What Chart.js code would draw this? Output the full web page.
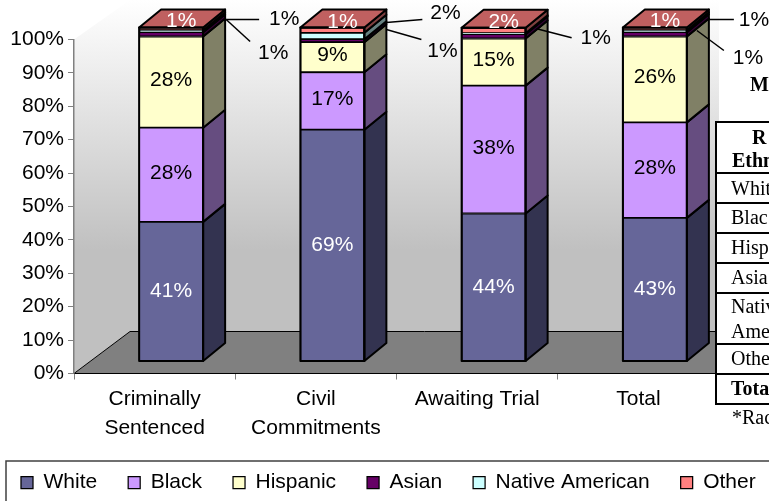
<!DOCTYPE html>
<html>
<head>
<meta charset="utf-8">
<style>
  html, body { margin: 0; padding: 0; background: #fff; overflow: hidden; width: 769px; height: 501px; }
  #chart_race { position: absolute; left: 0; top: 0; }
  #side { position: absolute; left: 0; top: 0; width: 769px; height: 501px; overflow: hidden; font-family: "Liberation Serif", serif; font-size: 20px; color: #000; }
  #side div { position: absolute; white-space: nowrap; }
  .cell { left: 715px; width: 60px; background: #fff; border: 2px solid #000; box-sizing: border-box; margin-bottom: 0; }
  .txt { left: 731px; line-height: 24px; }
</style>
</head>
<body>
<canvas id="chart_race" width="900" height="620"></canvas>
<div id="side"></div>
<script src="https://cdn.jsdelivr.net/npm/chart.js@4"></script>
<script>
const categories = [['Criminally', 'Sentenced'], ['Civil', 'Commitments'], 'Awaiting Trial', 'Total'];
const seriesNames = ['White', 'Black', 'Hispanic', 'Asian', 'Native American', 'Other'];

// bar heights
const white = [41.8, 69.4, 44.3, 43.0];
const black = [28.2, 17.2, 38.3, 28.6];
const hispanic = [27.3, 9.0, 14.1, 25.7];
const asian = [1.3, 0.9, 1.3, 1.3];
const native = [0.6, 1.9, 0.3, 0.6];
const other = [0.8, 1.6, 1.6, 0.8];

// the percentages printed on the chart
const whiteLabels = ['41%', '69%', '44%', '43%'];
const blackLabels = ['28%', '17%', '38%', '28%'];
const hispanicLabels = ['28%', '9%', '15%', '26%'];
const asianLabels = ['1%', '1%', '1%', '1%'];
const nativeLabels = ['1%', '2%', null, '1%'];
const otherLabels = ['1%', '1%', '2%', '1%'];

const frontColors = ['#666699', '#CC99FF', '#FFFFCC', '#660066', '#CCFFFF', '#FF8080'];
const sideColors = ['#333350', '#664D80', '#808066', '#330033', '#668080', '#804040'];
const labelColors = ['#fff', '#000', '#000', '#000', '#000', '#fff'];
const labelNudge = [0, -1.5, -2, 0, 0, -8];
const topColor = '#C06060';

// fake 3D sizes, px
const wallDx = 56, wallDy = 42;
const barDx = 16.5, barLift = 12;
const sideDx = 22, sideDy = 18;
const floorFront = 373.5;

// leader lines: series, bar, then start, end and text offsets from the bar's top right corner
const callouts = [
  [4, 0, 23, -8, 56, -8, 81, -8],
  [3, 0, 23, -8, 47, 14, 70, 26],
  [4, 1, 22, -5, 58, -8, 81, -14],
  [3, 1, 22, 2, 57, 12, 78, 24],
  [3, 2, 11, 1, 46, 10, 70, 10],
  [4, 3, 22, -8, 47, -8, 67, -7],
  [3, 3, 10, 3, 37, 23, 61, 31]
];

const allValues = [white, black, hispanic, asian, native, other];
const allLabels = [whiteLabels, blackLabels, hispanicLabels, asianLabels, nativeLabels, otherLabels];

const tableLines = [121, 172, 202, 232, 262, 292, 343, 373, 403];
const tableText = [
  ['M', 750, 72, true], ['R', 752, 125, true], ['Ethn', 732, 148, true],
  ['Whit', 731, 176, false], ['Blac', 731, 205, false], ['Hisp', 731, 235, false],
  ['Asia', 731, 265, false], ['Nativ', 731, 294, false], ['Ame', 731, 319, false],
  ['Othe', 731, 346, false], ['Tota', 731, 376, true], ['*Rac', 732, 405, false]
];

function poly(ctx, pts, fill) {
  ctx.beginPath();
  pts.forEach((p, i) => i ? ctx.lineTo(p[0], p[1]) : ctx.moveTo(p[0], p[1]));
  ctx.closePath();
  if (fill) { ctx.fillStyle = fill; ctx.fill(); }
  ctx.stroke();
}

const walls = {
  id: 'walls',
  afterLayout(chart) {
    chart.legend.left = -10;
    chart.legend.top = 441;
  },
  beforeDraw(chart) {
    const ctx = chart.ctx;
    const a = chart.chartArea;
    const grad = ctx.createLinearGradient(0, 0, 0, 250);
    grad.addColorStop(0, '#ffffff');
    grad.addColorStop(1, '#c0c0c0');
    ctx.save();
    ctx.strokeStyle = 'rgba(0,0,0,0)';
    ctx.lineWidth = 0;
    poly(ctx, [[a.left, a.bottom], [a.left + wallDx, a.bottom - wallDy], [a.left + wallDx, 0], [a.left, a.top]], grad);
    poly(ctx, [[a.left + wallDx, a.bottom - wallDy], [a.left + wallDx, 0], [a.right, 0], [a.right, a.bottom - wallDy]], grad);
    ctx.strokeStyle = '#000';
    ctx.lineWidth = 1;
    poly(ctx, [[a.left, a.bottom], [a.left + wallDx, a.bottom - wallDy], [a.right, a.bottom - wallDy], [a.right, a.bottom]], '#808080');
    // legend frame runs off the crop
    ctx.strokeStyle = '#404040';
    ctx.lineWidth = 1.5;
    ctx.beginPath();
    ctx.moveTo(6, 501);
    ctx.lineTo(6, 461);
    ctx.lineTo(900, 461);
    ctx.stroke();
    ctx.restore();
  },
  beforeDatasetsDraw(chart) {
    chart.ctx.save();
    chart.ctx.translate(barDx, -barLift);
  },
  afterDatasetsDraw(chart) {
    const ctx = chart.ctx;
    ctx.strokeStyle = '#000';
    ctx.lineWidth = 2;
    ctx.lineJoin = 'round';
    const metas = allValues.map((v, s) => chart.getDatasetMeta(s));

    // side faces, then the lid, then the outline of the front
    metas.forEach((m, s) => m.data.forEach(el => {
      const r = el.x + el.width / 2;
      poly(ctx, [[r, el.base], [r + sideDx, el.base - sideDy], [r + sideDx, el.y - sideDy], [r, el.y]], sideColors[s]);
    }));
    metas[5].data.forEach((el, i) => {
      const l = el.x - el.width / 2, r = el.x + el.width / 2;
      poly(ctx, [[l, el.y], [l + sideDx, el.y - sideDy], [r + sideDx, el.y - sideDy], [r, el.y]], topColor);
      ctx.strokeRect(l, el.y, el.width, metas[0].data[i].base - el.y);
    });

    ctx.font = '21px "Liberation Sans"';
    ctx.textAlign = 'center';
    ctx.textBaseline = 'middle';
    [0, 1, 2, 5].forEach(s => metas[s].data.forEach((el, i) => {
      ctx.fillStyle = labelColors[s];
      const mid = (el.y + el.base) / 2;
      ctx.fillText(allLabels[s][i], el.x + (s === 5 ? 10 : 0), mid + labelNudge[s]);
    }));

    ctx.fillStyle = '#000';
    ctx.lineWidth = 1.5;
    callouts.forEach(c => {
      const top = metas[5].data[c[1]];
      const cx = top.x + top.width / 2, cy = top.y;
      ctx.beginPath();
      ctx.moveTo(cx + c[2], cy + c[3]);
      ctx.lineTo(cx + c[4], cy + c[5]);
      ctx.stroke();
      ctx.fillText(allLabels[c[0]][c[1]], cx + c[6], cy + c[7]);
    });
    ctx.restore();
  }
};

Chart.defaults.font.family = '"Liberation Sans", Arial, sans-serif';
Chart.defaults.font.size = 21;
Chart.defaults.color = '#000';

const ctx = document.querySelector('#chart_race').getContext('2d');
const chart = new Chart(ctx, {
  type: 'bar',
  data: {
    labels: categories,
    datasets: allValues.map((v, s) => ({
      label: seriesNames[s],
      data: v,
      backgroundColor: frontColors[s],
      borderColor: '#000',
      borderWidth: 1.25,
      borderSkipped: false,
      barThickness: 64
    }))
  },
  plugins: [walls],
  options: {
    responsive: false,
    animation: false,
    layout: { padding: { left: 0, right: 0, top: 39.5, bottom: 0 } },
    scales: {
      x: {
        stacked: true,
        afterFit(axis) { axis.height = axis.chart.height - axis.chart.legend.height - floorFront; },
        grid: { drawOnChartArea: false, color: '#808080', tickLength: 6, offset: true },
        border: { color: '#000' },
        ticks: { padding: 5, maxRotation: 0, autoSkip: false, font: { lineHeight: 1.4 } }
      },
      y: {
        stacked: true,
        min: 0,
        max: 100,
        afterFit(axis) { axis.width = 74; },
        grid: { drawOnChartArea: false, color: '#808080', tickLength: 6 },
        border: { color: '#808080', width: 1.5 },
        ticks: { stepSize: 10, padding: 4, callback: v => v + '%' }
      },
      // empty axis, keeps the plot clear of the part of the canvas past the table
      spare: {
        type: 'linear',
        position: 'right',
        afterFit(axis) { axis.width = 181; },
        grid: { display: false },
        border: { display: false },
        ticks: { display: false }
      }
    },
    plugins: {
      tooltip: { enabled: false },
      legend: {
        display: true,
        position: 'bottom',
        align: 'start',
        labels: { boxWidth: 12, boxHeight: 12, padding: 31, color: '#000' }
      }
    }
  }
});

// the table beside the chart is cut off by the crop
const side = document.querySelector('#side');
for (let i = 0; i < tableLines.length - 1; i++) {
  const d = document.createElement('div');
  d.className = 'cell';
  d.style.top = tableLines[i] + 'px';
  d.style.height = (tableLines[i + 1] - tableLines[i] + 2) + 'px';
  side.appendChild(d);
}
tableText.forEach(t => {
  const d = document.createElement('div');
  d.className = 'txt';
  d.textContent = t[0];
  d.style.left = t[1] + 'px';
  d.style.top = t[2] + 'px';
  if (t[3]) d.style.fontWeight = 'bold';
  side.appendChild(d);
});
</script>
</body>
</html>
